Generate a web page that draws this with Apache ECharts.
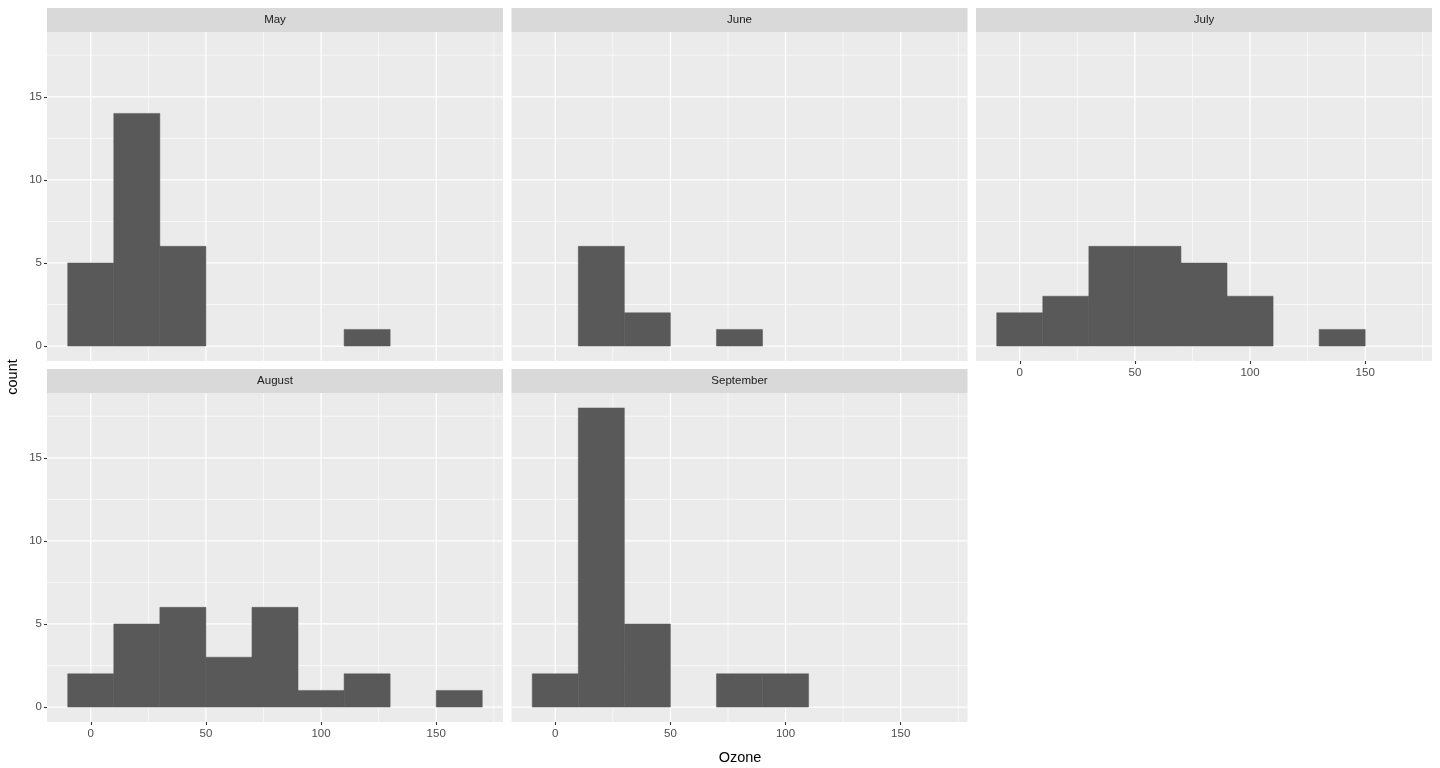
<!DOCTYPE html>
<html>
<head>
<meta charset="utf-8">
<script src="https://cdn.jsdelivr.net/npm/echarts@6/dist/echarts.min.js"></script>
<style>
html,body{margin:0;padding:0;background:#fff;}
#chart{width:1440px;height:768px;}
</style>
</head>
<body>
<div id="chart"></div>
<script>
// ---- data ----
const months = ['May', 'June', 'July', 'August', 'September'];
const binEdges = [-10, 10, 30, 50, 70, 90, 110, 130, 150, 170];
const countsMay = [5, 14, 6, 0, 0, 0, 1, 0, 0];
const countsJune = [0, 6, 2, 0, 1, 0, 0, 0, 0];
const countsJuly = [2, 3, 6, 6, 5, 3, 0, 1, 0];
const countsAugust = [2, 5, 6, 3, 6, 1, 2, 0, 1];
const countsSeptember = [2, 18, 5, 0, 2, 2, 0, 0, 0];
const xTicks = [0, 50, 100, 150];
const xMinor = [25, 75, 125, 175];
const yTicks = [0, 5, 10, 15];
const yMinor = [2.5, 7.5, 12.5, 17.5];
const xLabel = 'Ozone';
const yLabel = 'count';

const allCounts = [countsMay, countsJune, countsJuly, countsAugust, countsSeptember];

// ---- layout ----
const colLeft = [47, 511.5, 976];
const panelW = 456;
const rowTop = [32, 393];
const panelH = 329;
const stripH = 24;
const FONT = '"Liberation Sans", Arial, Helvetica, sans-serif';

const grids = [], xAxes = [], yAxes = [], series = [], graphics = [];

months.forEach((m, i) => {
  const r = Math.floor(i / 3), c = i % 3;
  const left = colLeft[c], top = rowTop[r];
  grids.push({
    left: left, top: top, width: panelW, height: panelH,
    show: true, backgroundColor: '#EBEBEB', borderWidth: 0
  });
  const showX = (r === 1) || (i === 2);
  const showY = (c === 0);
  xAxes.push({
    type: 'value', gridIndex: i, min: -19, max: 179, position: 'bottom',
    axisLine: { show: false, onZero: false },
    splitLine: { show: false },
    axisTick: { show: showX, inside: false, customValues: xTicks, length: 3, lineStyle: { color: '#333333', width: 1.1 } },
    axisLabel: { show: showX, customValues: xTicks, margin: 6, color: '#4D4D4D', fontSize: 11.5, fontFamily: FONT }
  });
  yAxes.push({
    type: 'value', gridIndex: i, min: -0.9, max: 18.9, position: 'left',
    axisLine: { show: false, onZero: false },
    splitLine: { show: false },
    axisTick: { show: showY, inside: false, customValues: yTicks, length: 3, lineStyle: { color: '#333333', width: 1.1 } },
    axisLabel: { show: showY, customValues: yTicks, margin: 5, color: '#4D4D4D', fontSize: 11.5, fontFamily: FONT }
  });

  // grid lines
  const gl = [];
  xMinor.forEach(v => gl.push([0, v, 0]));
  yMinor.forEach(v => gl.push([1, v, 0]));
  xTicks.forEach(v => gl.push([0, v, 1]));
  yTicks.forEach(v => gl.push([1, v, 1]));
  series.push({
    type: 'custom', xAxisIndex: i, yAxisIndex: i, silent: true, z: 1,
    data: gl,
    encode: { x: 1, y: 1 },
    renderItem: function (params, api) {
      const cs = params.coordSys;
      const o = api.value(0), v = api.value(1), major = api.value(2);
      const w = major ? 1.2 : 0.6;
      if (o === 0) {
        const x = api.coord([v, 0])[0];
        return { type: 'line', shape: { x1: x, y1: cs.y, x2: x, y2: cs.y + cs.height }, style: { stroke: '#FFFFFF', lineWidth: w } };
      } else {
        const y = api.coord([0, v])[1];
        return { type: 'line', shape: { x1: cs.x, y1: y, x2: cs.x + cs.width, y2: y }, style: { stroke: '#FFFFFF', lineWidth: w } };
      }
    }
  });

  // histogram bars
  const bars = [];
  allCounts[i].forEach((cnt, k) => {
    if (cnt > 0) bars.push([binEdges[k], binEdges[k + 1], cnt]);
  });
  series.push({
    type: 'custom', xAxisIndex: i, yAxisIndex: i, z: 2,
    data: bars,
    encode: { x: [0, 1], y: 2 },
    renderItem: function (params, api) {
      const p0 = api.coord([api.value(0), api.value(2)]);
      const p1 = api.coord([api.value(1), 0]);
      return { type: 'rect', shape: { x: p0[0], y: p0[1], width: p1[0] - p0[0], height: p1[1] - p0[1] },
        style: { fill: '#595959', stroke: '#595959', lineWidth: 0.5 } };
    }
  });

  // strip
  graphics.push({
    type: 'rect', left: left, top: top - stripH,
    shape: { width: panelW, height: stripH }, style: { fill: '#D9D9D9' }, silent: true
  });
  graphics.push({
    type: 'text', x: left + panelW / 2, y: top - stripH / 2,
    style: { text: m, fill: '#1A1A1A', font: '11.5px ' + FONT, textAlign: 'center', textVerticalAlign: 'middle' }, silent: true
  });
});

graphics.push({
  type: 'text', x: 740, y: 758,
  style: { text: xLabel, fill: '#000000', font: '14.5px ' + FONT, textAlign: 'center', textVerticalAlign: 'middle' }, silent: true
});
graphics.push({
  type: 'text', x: 13, y: 377, rotation: Math.PI / 2,
  style: { text: yLabel, fill: '#000000', font: '14.5px ' + FONT, textAlign: 'center', textVerticalAlign: 'middle' }, silent: true
});

const chart = echarts.init(document.getElementById('chart'), null, { renderer: 'canvas' });
chart.setOption({
  animation: false,
  backgroundColor: '#FFFFFF',
  grid: grids,
  xAxis: xAxes,
  yAxis: yAxes,
  series: series,
  graphic: graphics
});
</script>
</body>
</html>
